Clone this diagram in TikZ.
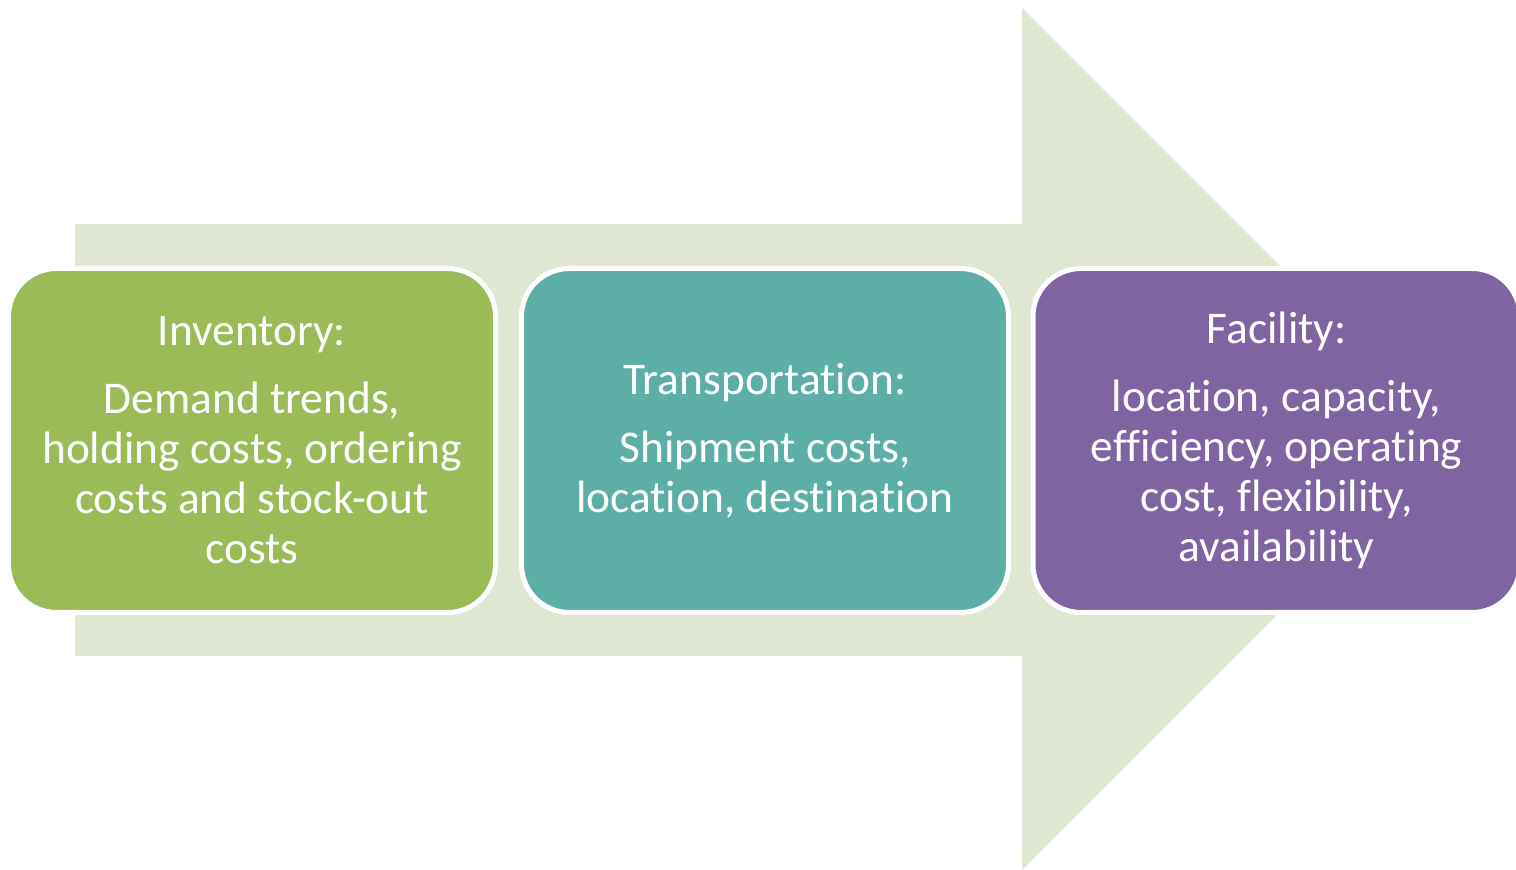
\documentclass[tikz,border=0pt]{standalone}
\usepackage{fontspec}
\setmainfont{Carlito}[Ligatures=NoCommon]
\usepackage{tikz}
\usetikzlibrary{calc}
\definecolor{shaftgreen}{HTML}{DFE7D3}
\definecolor{invgreen}{HTML}{9BBB59}
\definecolor{transteal}{HTML}{5DAEA7}
\definecolor{facpurple}{HTML}{8064A2}
\begin{document}
\begin{tikzpicture}[x=0.5pt,y=-0.5pt,
  box/.style={draw=white, line width=2.5pt, rounded corners=24pt, minimum width=243.5pt, minimum height=172pt, inner sep=0pt, align=center, text=white, font=\fontsize{22.7}{25}\selectfont}]
                      \useasboundingbox (0,0) rectangle (1516,870);
                      \fill [shaftgreen] (75,224) --(1022,224) --(1022,8) --(1453,439) --(1022,870) --(1022,656) --(75,656) --cycle;
                      \node [box, fill=invgreen] (inventory) at (252,440.5) {Inventory:\\[9pt]Demand trends,\\holding costs, ordering\\costs and stock-out\\costs};
                      \node [box, fill=transteal] (transport) at (765,440.5) {Transportation:\\[9pt]Shipment costs,\\location, destination};
                      \node [box, fill=facpurple] (facility) at (1276.5,440.5) {Facility:\\[9pt]location, capacity,\\efficiency, operating\\cost, flexibility,\\availability};
                  \end{tikzpicture}
\end{document}
